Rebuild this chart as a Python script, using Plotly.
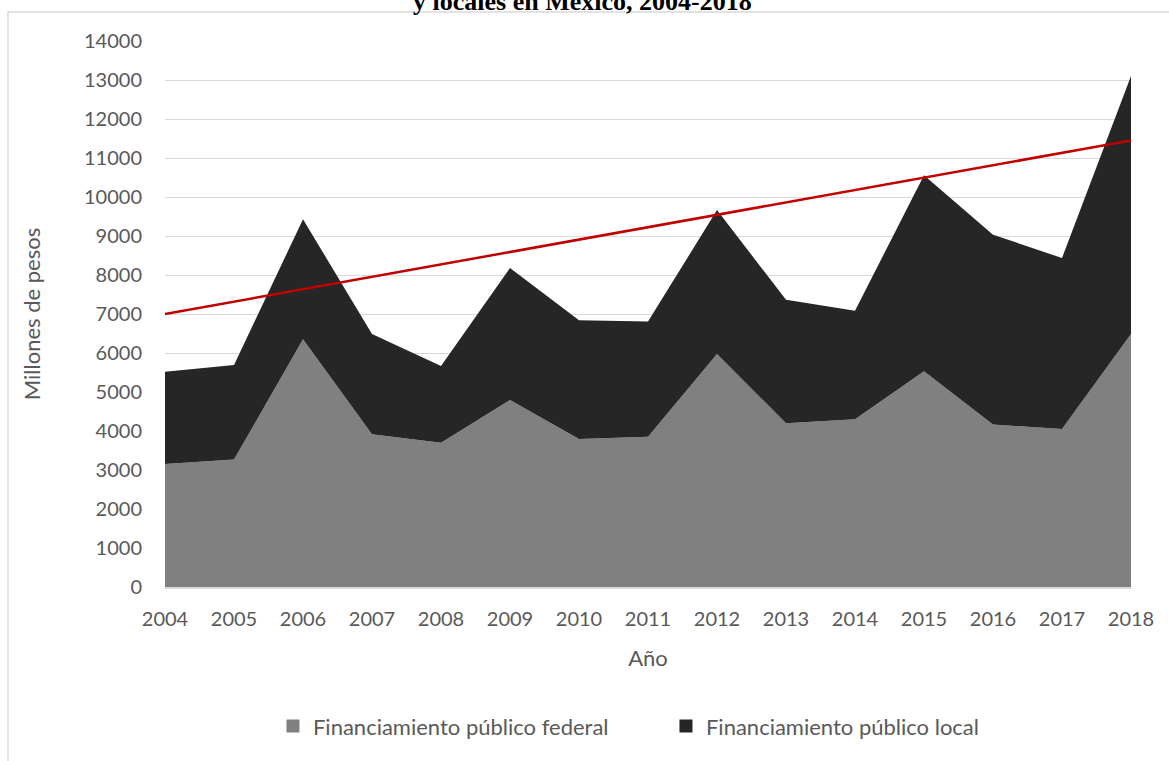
import plotly.graph_objects as go

years = list(range(2004, 2019))
federal = [3155, 3270, 6350, 3915, 3700, 4795, 3795, 3855, 5975, 4200, 4300, 5530, 4165, 4050, 6490]
total = [5520, 5690, 9430, 6485, 5665, 8180, 6840, 6805, 9665, 7365, 7085, 10555, 9035, 8435, 13100]
local = [t - f for t, f in zip(total, federal)]
trend_years = [2004, 2018]
trend_values = [7000, 11450]

names = ["Financiamiento público federal", "Financiamiento público local"]
colors = ["#808080", "#262626"]

fig = go.Figure()
fig.add_trace(go.Scatter(x=years, y=federal, stackgroup="one", mode="none",
                         fillcolor=colors[0], name=names[0], showlegend=False,
                         hoverinfo="x+y"))
fig.add_trace(go.Scatter(x=years, y=local, stackgroup="one", mode="none",
                         fillcolor=colors[1], name=names[1], showlegend=False,
                         hoverinfo="x+y"))
fig.add_trace(go.Scatter(x=trend_years, y=trend_values, mode="lines",
                         line=dict(color="#C00000", width=2.5), showlegend=False,
                         name="Tendencia"))
for n, c in zip(names, colors):
    fig.add_trace(go.Scatter(x=[None], y=[None], mode="markers", name=n,
                             marker=dict(symbol="square", size=13, color=c)))

font_family = "Lato, 'Open Sans', sans-serif"
tick_color = "#595959"

fig.update_layout(
    width=1169, height=761,
    margin=dict(l=165, r=38, t=41, b=174, pad=0),
    paper_bgcolor="white", plot_bgcolor="white",
    font=dict(family=font_family, color=tick_color, size=20),
    xaxis=dict(range=[2004, 2018], tickmode="array", tickvals=years,
               ticktext=[str(y) for y in years],
               showgrid=False, zeroline=False,
               showline=True, linecolor="#d9d9d9", linewidth=1.5,
               ticks="outside", ticklen=13, tickcolor="rgba(0,0,0,0)",
               tickfont=dict(size=20, color=tick_color),
               title=dict(text="Año", font=dict(size=22, color=tick_color), standoff=22)),
    yaxis=dict(range=[0, 14000], tickmode="linear", tick0=0, dtick=1000,
               tickformat="d",
               showgrid=True, gridcolor="#d9d9d9", gridwidth=1.3,
               zeroline=False, showline=False,
               ticks="outside", ticklen=18, tickcolor="rgba(0,0,0,0)",
               tickfont=dict(size=20, color=tick_color),
               title=dict(text="Millones de pesos", font=dict(size=22, color=tick_color), standoff=37)),
    legend=dict(orientation="h", x=0.5186, xanchor="center", y=-0.255, yanchor="middle",
                font=dict(size=22, color=tick_color), entrywidth=348,
                traceorder="normal", bgcolor="rgba(0,0,0,0)"),
    showlegend=True,
)

# chart frame (outer border, extends beyond visible page at right and bottom)
fig.add_shape(type="rect", xref="paper", yref="paper",
              x0=(8 - 165) / 966, x1=(1180 - 165) / 966,
              y0=(587 - 780) / 546, y1=(587 - 12) / 546,
              line=dict(color="#d9d9d9", width=1.5), fillcolor="rgba(0,0,0,0)", layer="below")

# partially visible chart title (cut at the top of the image)
fig.add_annotation(text="<b>y locales en México, 2004-2018</b>", xref="paper", yref="paper",
                   x=(582 - 165) / 966, y=1, xanchor="center", yanchor="middle", yshift=40,
                   showarrow=False,
                   font=dict(family="'Liberation Serif', 'Times New Roman', serif", size=26, color="black"))

fig.write_html("out.html", config={"displayModeBar": False},
               post_script="document.body.style.margin='0';")
